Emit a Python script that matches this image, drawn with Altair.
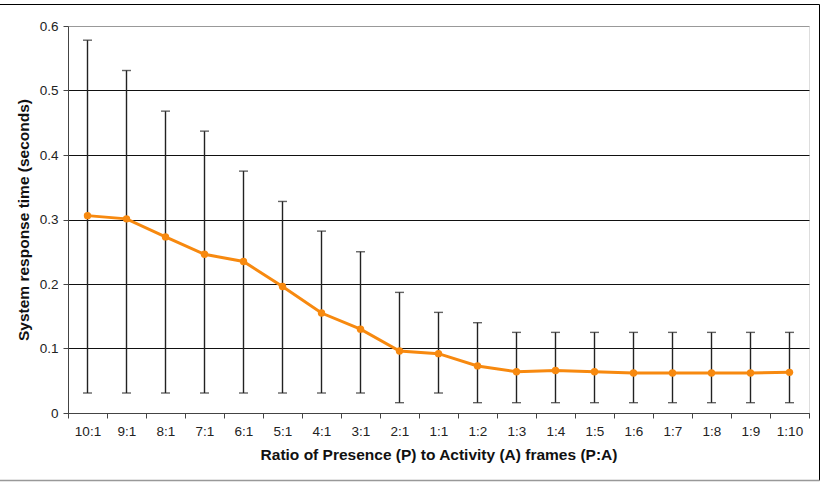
import altair as alt
import pandas as pd

# Presence:Activity frame ratios and measured response times (seconds)
ratios = ["10:1", "9:1", "8:1", "7:1", "6:1", "5:1", "4:1", "3:1", "2:1", "1:1",
          "1:2", "1:3", "1:4", "1:5", "1:6", "1:7", "1:8", "1:9", "1:10"]
mean_time = [0.306, 0.301, 0.273, 0.246, 0.235, 0.196, 0.155, 0.130, 0.096, 0.092,
             0.073, 0.064, 0.066, 0.064, 0.062, 0.062, 0.062, 0.062, 0.063]
upper_time = [0.578, 0.531, 0.468, 0.437, 0.375, 0.328, 0.282, 0.250, 0.187, 0.156,
              0.140, 0.125, 0.125, 0.125, 0.125, 0.125, 0.125, 0.125, 0.125]
lower_time = [0.031, 0.031, 0.031, 0.031, 0.031, 0.031, 0.031, 0.031, 0.016, 0.031,
              0.016, 0.016, 0.016, 0.016, 0.016, 0.016, 0.016, 0.016, 0.016]
y_ticks = [0, 0.1, 0.2, 0.3, 0.4, 0.5, 0.6]

df = pd.DataFrame({"ratio": ratios, "mean": mean_time,
                   "upper": upper_time, "lower": lower_time})

FONT = "Liberation Sans"
W, H = 741, 387

x_enc = alt.X(
    "ratio:N", sort=ratios,
    scale=alt.Scale(paddingInner=0, paddingOuter=0),
    axis=alt.Axis(
        title="Ratio of Presence (P) to Activity (A) frames (P:A)",
        labelAngle=0, tickBand="extent", tickSize=5, tickColor="#444",
        domainColor="#444", labelFontSize=13.5, labelColor="#222",
        labelPadding=6, titleFontSize=15.5, titleFontWeight="bold",
        titleColor="#111", titlePadding=10, grid=False,
    ),
)
y_scale = alt.Scale(domain=[0, 0.6], nice=False)

base = alt.Chart(df).encode(x=x_enc)

grid = base.mark_point(opacity=0).encode(
    y=alt.Y("mean:Q", scale=y_scale,
            axis=alt.Axis(
                title="System response time (seconds)", values=y_ticks,
                format="~g", tickSize=5, tickColor="#444", domainColor="#444",
                labelFontSize=13.5, labelColor="#222", labelPadding=5,
                titleFontSize=15.5, titleFontWeight="bold", titleColor="#111",
                titlePadding=8, grid=True,
                gridColor=alt.condition("datum.value >= 0.6",
                                        alt.value("#999999"), alt.value("#111111")),
                gridWidth=1,
            ))
)

err = base.mark_rule(color="#222", strokeWidth=1.4).encode(
    y=alt.Y("lower:Q", scale=y_scale), y2="upper:Q"
)
cap_hi = base.mark_tick(color="#222", thickness=1.4, size=9, orient="horizontal").encode(
    y=alt.Y("upper:Q", scale=y_scale)
)
cap_lo = base.mark_tick(color="#222", thickness=1.4, size=9, orient="horizontal").encode(
    y=alt.Y("lower:Q", scale=y_scale)
)
line = base.mark_line(color="#F7890F", strokeWidth=3).encode(
    y=alt.Y("mean:Q", scale=y_scale)
)
pts = base.mark_circle(color="#F7890F", size=55, opacity=1).encode(
    y=alt.Y("mean:Q", scale=y_scale)
)

# outer figure frame
one = pd.DataFrame({"k": [0]})
frame_top = alt.Chart(one).mark_rule(color="#000", strokeWidth=1).encode(
    x=alt.value(-68), x2=alt.value(751.5), y=alt.value(-21.5))
frame_right = alt.Chart(one).mark_rule(color="#000", strokeWidth=1).encode(
    x=alt.value(751.5), y=alt.value(-21.5), y2=alt.value(454.5))
frame_bottom = alt.Chart(one).mark_rule(color="#999", strokeWidth=1.5).encode(
    x=alt.value(-68), x2=alt.value(751.5), y=alt.value(454.5))

chart = alt.layer(
    grid, err, cap_hi, cap_lo, line, pts, frame_top, frame_right, frame_bottom
).properties(
    width=W, height=H,
    autosize=alt.AutoSizeParams(type="none"),
    padding={"left": 68, "top": 26, "right": 18, "bottom": 69},
).configure_view(
    stroke="#999999", strokeWidth=1.2
).configure(
    font=FONT, background="white"
)

chart.save("out.html", embed_options={"renderer": "svg", "actions": False})
